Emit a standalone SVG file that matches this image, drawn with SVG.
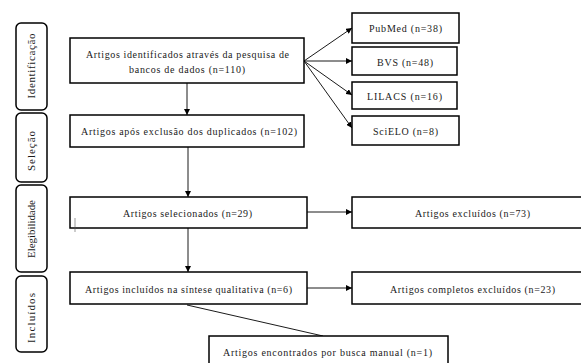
<svg xmlns="http://www.w3.org/2000/svg" width="581" height="363" viewBox="0 0 581 363">
<defs>
<marker id="ah" markerWidth="6" markerHeight="6" refX="6" refY="3" orient="auto" markerUnits="userSpaceOnUse">
<path d="M0,0 L6,3 L0,6 Z" fill="#000"/>
</marker>
</defs>
<style>
.box{fill:#fff;stroke:#000;stroke-width:1.5}
.side{fill:#fff;stroke:#000;stroke-width:1.5}
.t{font-family:'Liberation Serif','DejaVu Serif',serif;font-size:10px;fill:#1a1a1a;text-anchor:middle}
.s{font-family:'Liberation Serif','DejaVu Serif',serif;font-size:11px;fill:#1a1a1a;text-anchor:middle}
.c{stroke:#000;stroke-width:0.9;fill:none}
</style>
<rect width="581" height="363" fill="#fff"/>
<g id="phase-identificacao"><rect class="side" x="16" y="23" width="31" height="87" rx="5"/><text class="s" transform="translate(35,66) rotate(-90)" textLength="65" lengthAdjust="spacing">Identificação</text></g>
<g id="phase-selecao"><rect class="side" x="16" y="113" width="31" height="69" rx="5"/><text class="s" transform="translate(35,151) rotate(-90)" textLength="40" lengthAdjust="spacing">Seleção</text></g>
<g id="phase-elegibilidade"><rect class="side" x="16" y="185" width="31" height="87" rx="5"/><text class="s" transform="translate(35,229) rotate(-90)" textLength="58" lengthAdjust="spacing">Elegibilidade</text></g>
<g id="phase-incluidos"><rect class="side" x="16" y="276" width="31" height="76" rx="5"/><text class="s" transform="translate(35,318) rotate(-90)" textLength="50" lengthAdjust="spacing">Incluídos</text></g>
<g id="connectors">
<line class="c" x1="187" y1="83" x2="187" y2="115" marker-end="url(#ah)"/>
<line class="c" x1="188" y1="147" x2="188" y2="197" marker-end="url(#ah)"/>
<line class="c" x1="188" y1="228" x2="188" y2="272" marker-end="url(#ah)"/>
<line class="c" x1="304" y1="61" x2="352" y2="28" marker-end="url(#ah)"/>
<line class="c" x1="304" y1="61" x2="352" y2="61" marker-end="url(#ah)"/>
<line class="c" x1="304" y1="61" x2="352" y2="95" marker-end="url(#ah)"/>
<line class="c" x1="304" y1="61" x2="352" y2="128" marker-end="url(#ah)"/>
<line class="c" x1="307" y1="212" x2="352" y2="212" marker-end="url(#ah)"/>
<line class="c" x1="307" y1="288" x2="352" y2="288" marker-end="url(#ah)"/>
<line class="c" x1="187" y1="305" x2="323" y2="336"/>
</g>
<g id="n-identificados"><rect class="box" x="70" y="38" width="234" height="45"/><text class="t" x="187.5" y="58" textLength="203" lengthAdjust="spacing">Artigos identificados através da pesquisa de</text><text class="t" x="187" y="73" textLength="116" lengthAdjust="spacing">bancos de dados (n=110)</text></g>
<g id="n-duplicados"><rect class="box" x="70" y="115" width="234" height="32"/><text class="t" x="189" y="135" textLength="216" lengthAdjust="spacing">Artigos após exclusão dos duplicados (n=102)</text></g>
<g id="n-selecionados"><rect class="box" x="70" y="197" width="237" height="31"/><text class="t" x="187.5" y="217" textLength="129" lengthAdjust="spacing">Artigos selecionados (n=29)</text><line x1="75" y1="218" x2="75" y2="232" stroke="#555" stroke-width="0.6"/></g>
<g id="n-incluidos"><rect class="box" x="70" y="272" width="237" height="32"/><text class="t" x="188.5" y="293" textLength="207" lengthAdjust="spacing">Artigos incluídos na síntese qualitativa (n=6)</text></g>
<g id="n-pubmed"><rect class="box" x="352" y="13" width="107" height="30"/><text class="t" x="405.5" y="32" textLength="73" lengthAdjust="spacing">PubMed (n=38)</text></g>
<g id="n-bvs"><rect class="box" x="352" y="47" width="105" height="28"/><text class="t" x="405" y="66" textLength="56" lengthAdjust="spacing">BVS (n=48)</text></g>
<g id="n-lilacs"><rect class="box" x="352" y="82" width="105" height="27"/><text class="t" x="404.5" y="100" textLength="75" lengthAdjust="spacing">LILACS (n=16)</text></g>
<g id="n-scielo"><rect class="box" x="352" y="116" width="107" height="29"/><text class="t" x="405.5" y="135" textLength="65" lengthAdjust="spacing">SciELO (n=8)</text></g>
<g id="n-excluidos"><rect class="box" x="352" y="197" width="245" height="31"/><text class="t" x="472.5" y="217" textLength="115" lengthAdjust="spacing">Artigos excluídos (n=73)</text></g>
<g id="n-completos"><rect class="box" x="352" y="272" width="245" height="32"/><text class="t" x="472.5" y="293" textLength="165" lengthAdjust="spacing">Artigos completos excluídos (n=23)</text></g>
<g id="n-manual"><rect class="box" x="209" y="336" width="239" height="32"/><text class="t" x="327.5" y="356" textLength="209" lengthAdjust="spacing">Artigos encontrados por busca manual (n=1)</text></g>
</svg>
